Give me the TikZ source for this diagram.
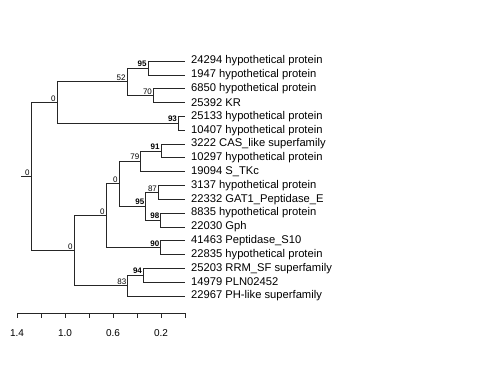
\documentclass[tikz,border=0pt]{standalone}
\usepackage{fontspec}
\setmainfont{Liberation Sans}
\begin{document}
\begin{tikzpicture}[x=1pt,y=-1pt,
  edge/.style={draw=black!85,line width=0.6pt},
  leaf/.style={anchor=west,inner sep=0pt,font=\fontsize{11.2}{12}\selectfont},
  bs/.style={anchor=south east,inner xsep=1.2pt,inner ysep=1pt,font=\fontsize{8}{9}\selectfont},
  bsb/.style={bs,font=\fontsize{8}{9}\selectfont\bfseries},
  ticklab/.style={font=\fontsize{10}{11}\selectfont,inner sep=0pt}]
\useasboundingbox (0,0) rectangle (480,384);
% leaves
\foreach \i/\t in {0/24294 hypothetical protein,1/1947 hypothetical protein,2/6850 hypothetical protein,3/25392 KR,4/25133 hypothetical protein,5/10407 hypothetical protein,6/3222 CAS\_like superfamily,7/10297 hypothetical protein,8/19094 S\_TKc,9/3137 hypothetical protein,10/22332 GAT1\_Peptidase\_E,11/8835 hypothetical protein,12/22030 Gph,13/41463 Peptidase\_S10,14/22835 hypothetical protein,15/25203 RRM\_SF superfamily,16/14979 PLN02452,17/22967 PH-like superfamily}{
  \coordinate (l\i) at (185,61+13.82*\i);
  \node[leaf] (t\i) at (191,61+13.82*\i) {\t};
}
% internal nodes
\coordinate (n95a) at (148,67.9);
\coordinate (n70) at (153.3,95.5);
\coordinate (n52) at (127,81.7);
\coordinate (n93) at (178.3,123.2);
\coordinate (nA) at (57,102.5);
\coordinate (n91) at (161,150.8);
\coordinate (n79) at (140.7,161.2);
\coordinate (n87) at (158.3,192.3);
\coordinate (n98) at (160.7,220);
\coordinate (n95b) at (145.7,206.1);
\coordinate (n0c) at (119,183.7);
\coordinate (n90) at (160.7,247.6);
\coordinate (n0b) at (106,215.6);
\coordinate (n94) at (143.3,275.2);
\coordinate (n83) at (127.7,285.6);
\coordinate (n0a) at (74,250.6);
\coordinate (root) at (31,176.5);
\coordinate (stub) at (21,176.5);
% edges
\foreach \p/\c in {n95a/l0,n95a/l1,n70/l2,n70/l3,n52/n95a,n52/n70,n93/l4,n93/l5,nA/n52,nA/n93,
  n91/l6,n91/l7,n79/n91,n79/l8,n87/l9,n87/l10,n98/l11,n98/l12,n95b/n87,n95b/n98,n0c/n79,n0c/n95b,
  n90/l13,n90/l14,n0b/n0c,n0b/n90,n94/l15,n94/l16,n83/n94,n83/l17,n0a/n0b,n0a/n83,root/nA,root/n0a}{
  \draw[edge] (\p) |- (\c);
}
\draw[edge] (stub) -- (root);
% support labels
\node[bsb] at (n95a) {95};
\node[bs] at (n52) {52};
\node[bs] at (n70) {70};
\node[bsb] at (n93) {93};
\node[bs] at (nA) {0};
\node[bsb] at (n91) {91};
\node[bs] at (n79) {79};
\node[bs] at (n87) {87};
\node[bsb] at (n95b) {95};
\node[bsb] at (n98) {98};
\node[bs] at (n0c) {0};
\node[bsb] at (n90) {90};
\node[bs] at (n0b) {0};
\node[bsb] at (n94) {94};
\node[bs] at (n83) {83};
\node[bs] at (n0a) {0};
\node[bs] at (root) {0};
% axis
\coordinate (ax0) at (17,313);
\coordinate (ax1) at (185,313);
\draw[edge] (ax0) -- (ax1);
\foreach \k in {0,...,7}{
  \draw[edge] (17+24*\k,313) -- (17+24*\k,318);
}
\node[ticklab] (a14) at (17,333) {1.4};
\node[ticklab] (a10) at (65,333) {1.0};
\node[ticklab] (a06) at (113,333) {0.6};
\node[ticklab] (a02) at (161,333) {0.2};
\end{tikzpicture}
\end{document}
